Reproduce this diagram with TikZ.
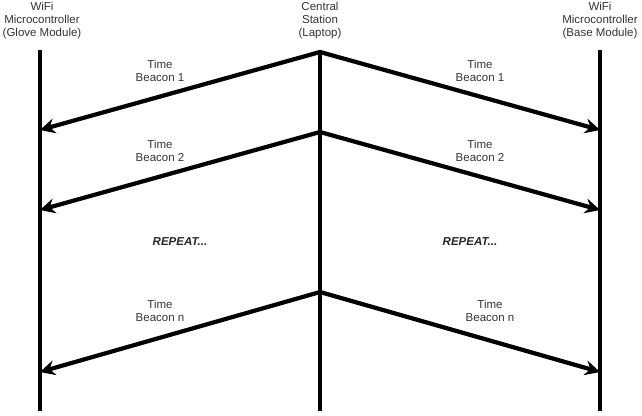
\documentclass[tikz,border=0pt]{standalone}
\usepackage{fontspec}
\setmainfont{Liberation Sans}
\usetikzlibrary{arrows.meta}

\begin{document}
\begin{tikzpicture}[x=1pt, y=-1pt,
    lbl/.style={align=center, font=\fontsize{11.5}{13}\selectfont, text=black!80},
    rep/.style={font=\fontsize{11.5}{13}\selectfont\bfseries\itshape, text=black!85},
    lane/.style={line width=4.2pt},
    msg/.style={line width=4.2pt, -{Stealth[length=15pt, width=15pt, inset=5pt]}}]
    \useasboundingbox (0,0) rectangle (642,415);

    % Headers
    \node (hg) at (42,21) [lbl] {WiFi\\Microcontroller\\(Glove Module)};
    \node (hc) at (320,21) [lbl] {Central\\Station\\(Laptop)};
    \node (hb) at (600,21) [lbl] {WiFi\\Microcontroller\\(Base Module)};

    % Lifelines
    \coordinate (g0) at (40,50);   \coordinate (g1) at (40,411);
    \coordinate (c0) at (320,50);  \coordinate (c1) at (320,411);
    \coordinate (b0) at (600,50);  \coordinate (b1) at (600,411);
    \draw[lane] (g0) -- (g1);
    \draw[lane] (c0) -- (c1);
    \draw[lane] (b0) -- (b1);

    % Beacons
    \coordinate (s1) at (320,52);  \coordinate (gl1) at (40,130);  \coordinate (bl1) at (600,130);
    \coordinate (s2) at (320,132); \coordinate (gl2) at (40,210);  \coordinate (bl2) at (600,210);
    \coordinate (s3) at (320,292); \coordinate (gl3) at (40,372);  \coordinate (bl3) at (600,372);
    \draw[msg] (s1) -- (gl1);
    \draw[msg] (s1) -- (bl1);
    \draw[msg] (s2) -- (gl2);
    \draw[msg] (s2) -- (bl2);
    \draw[msg] (s3) -- (gl3);
    \draw[msg] (s3) -- (bl3);

    % Labels
    \node (tg1) at (160,71) [lbl] {Time\\Beacon 1};
    \node (tb1) at (480,71) [lbl] {Time\\Beacon 1};
    \node (tg2) at (160,151) [lbl] {Time\\Beacon 2};
    \node (tb2) at (480,151) [lbl] {Time\\Beacon 2};
    \node (rg) at (180,242) [rep] {REPEAT...};
    \node (rb) at (470,242) [rep] {REPEAT...};
    \node (tg3) at (160,311) [lbl] {Time\\Beacon n};
    \node (tb3) at (490,311) [lbl] {Time\\Beacon n};
\end{tikzpicture}
\end{document}
